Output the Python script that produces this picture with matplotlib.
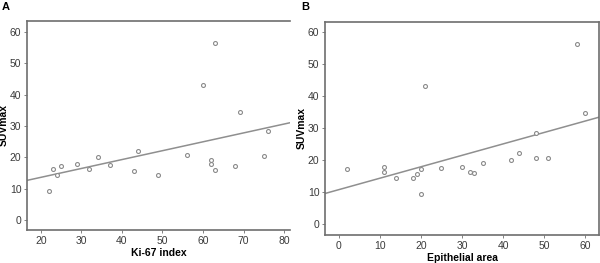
import matplotlib
matplotlib.use("Agg")
import matplotlib.pyplot as plt
import numpy as np

plt.rcParams['font.family'] = ['Liberation Sans', 'DejaVu Sans']

# SUVmax vs Ki-67 index (panel A)
ki67 = [22, 23, 24, 25, 29, 32, 34, 37, 43, 44, 49, 56, 60, 63, 62, 62, 63, 68, 69, 75, 76]
suv_a = [9.3, 16.2, 14.4, 17.3, 17.9, 16.4, 20.0, 17.5, 15.7, 22.2, 14.4, 20.7, 43.0, 56.3,
         19.3, 17.9, 16.0, 17.3, 34.6, 20.6, 28.4]

# SUVmax vs epithelial area (panel B)
epi = [2, 11, 11, 14, 18, 19, 20, 20, 21, 25, 30, 32, 33, 35, 42, 44, 48, 48, 51, 58, 60]
suv_b = [17.1, 17.9, 16.1, 14.3, 14.3, 15.7, 17.1, 9.3, 43.1, 17.6, 17.9, 16.3, 16.0, 19.2,
         20.0, 22.1, 20.7, 28.5, 20.5, 56.3, 34.6]

spine_col = '#6e6e6e'
pt_col = '#8a8a8a'

fig = plt.figure(figsize=(6, 2.63), dpi=100)
ax_a = fig.add_axes([0.045, 0.1255, 0.438, 0.7955])
ax_b = fig.add_axes([0.5417, 0.1065, 0.4573, 0.811])


def panel(ax, x, y, xlim, ylim, xticks, xlabel, letter, letter_x, right_spine):
    ax.scatter(x, y, s=8, facecolors='white', edgecolors=pt_col, linewidths=0.8, zorder=3)
    k, b = np.polyfit(x, y, 1)
    xs = np.array(xlim)
    ax.plot(xs, k * xs + b, color='#8f8f8f', lw=1.1, zorder=2)
    ax.set_xlim(xlim)
    ax.set_ylim(ylim)
    ax.set_xticks(xticks)
    ax.set_yticks([0, 10, 20, 30, 40, 50, 60])
    ax.tick_params(labelsize=7.5, colors='#3a3a3a', length=2.5, width=0.6,
                   direction='out', pad=1.5)
    ax.tick_params(color=spine_col)
    for side in ['left', 'bottom', 'top', 'right']:
        ax.spines[side].set_color(spine_col)
        ax.spines[side].set_linewidth(1.2)
    ax.spines['right'].set_visible(right_spine)
    ax.set_xlabel(xlabel, fontsize=7.5, fontweight='bold', labelpad=2)
    ax.set_ylabel('SUVmax', fontsize=7.5, fontweight='bold', labelpad=0.5)
    fig.text(letter_x, 0.975, letter, fontsize=8, fontweight='bold', ha='left', va='center')


panel(ax_a, ki67, suv_a, (16.6, 81.4), (-3.1, 63.5), [20, 30, 40, 50, 60, 70, 80],
      'Ki-67 index', 'A', 0.003, False)
panel(ax_b, epi, suv_b, (-3.4, 63.5), (-3.5, 63.3), [0, 10, 20, 30, 40, 50, 60],
      'Epithelial area', 'B', 0.502, True)

fig.savefig('out.png', dpi=100)
